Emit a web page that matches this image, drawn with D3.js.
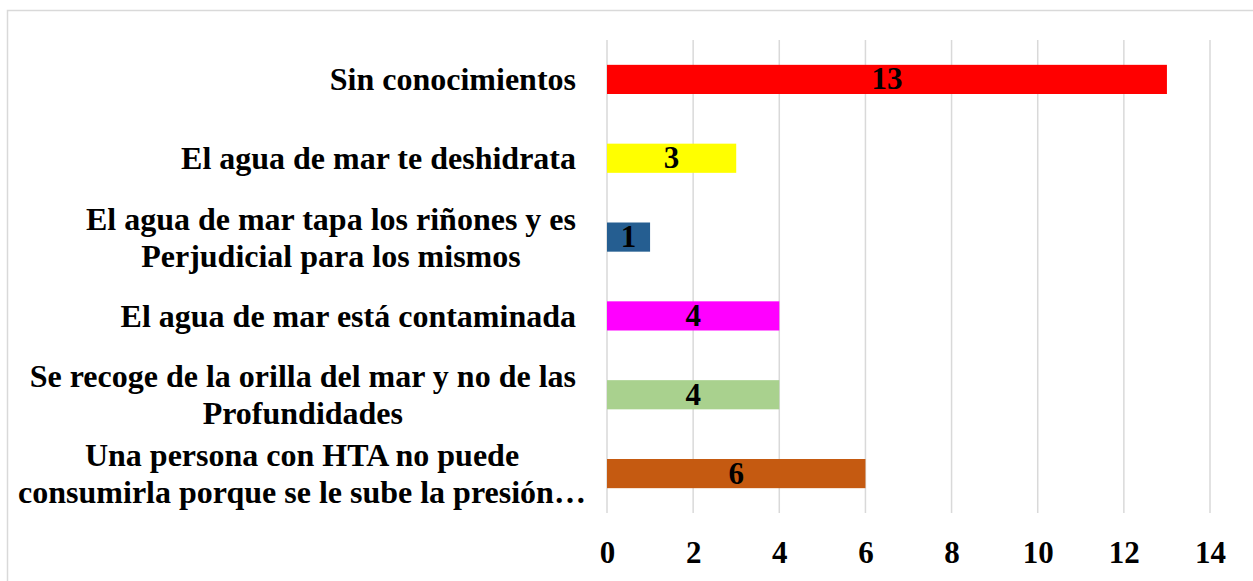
<!DOCTYPE html>
<html>
<head>
<meta charset="utf-8">
<script src="https://cdn.jsdelivr.net/npm/d3@7"></script>
<style>
    html, body { margin: 0; padding: 0; background: #ffffff; }
    svg { display: block; }
    .cat-label, .val-label, .tick-label {
        font-family: "Liberation Serif", "Times New Roman", serif;
        font-weight: bold;
        fill: #000000;
    }
</style>
</head>
<body>
<svg id="chart" width="1253" height="581"></svg>
<script>
// categories, top to bottom ("\n" = line break in the label)
var categories = [
    "Sin conocimientos",
    "El agua de mar te deshidrata",
    "El agua de mar tapa los riñones y es\nPerjudicial para los mismos",
    "El agua de mar está contaminada",
    "Se recoge de la orilla del mar y no de las\nProfundidades",
    "Una persona con HTA no puede\nconsumirla porque se le sube la presión…"
];
var values = [13, 3, 1, 4, 4, 6];
var barColors = ["#FF0000", "#FFFF00", "#255E91", "#FF00FF", "#A9D18E", "#C55A11"];
var xTicks = [0, 2, 4, 6, 8, 10, 12, 14];

var svg = d3.select("#chart");

var dim = {
    width: 1253,
    height: 581,
    plot: { left: 607, right: 1210, top: 40, bottom: 513 },
    labelRight: 576,
    labelMaxWidth: 548,
    lineHeight: 37
};

// chart area border
svg.append("rect")
    .attr("x", 7.5)
    .attr("y", 10.5)
    .attr("width", dim.width)
    .attr("height", dim.height)
    .attr("fill", "none")
    .attr("stroke", "#D9D9D9")
    .attr("stroke-width", 1.5);

var x = d3.scaleLinear()
    .domain([0, 14])
    .range([dim.plot.left, dim.plot.right]);

var y = d3.scaleBand()
    .domain(categories)
    .range([dim.plot.top, dim.plot.bottom])
    .paddingInner(0.63)
    .paddingOuter(0.315);

// vertical gridlines
svg.selectAll(".grid").data(xTicks).enter()
    .append("line")
    .attr("class", "grid")
    .attr("x1", function(d) { return x(d); })
    .attr("x2", function(d) { return x(d); })
    .attr("y1", dim.plot.top)
    .attr("y2", dim.plot.bottom)
    .attr("stroke", "#D9D9D9")
    .attr("stroke-width", 1.5);

// x axis tick labels
var xAxis = d3.axisBottom(x).tickValues(xTicks).tickSize(0).tickPadding(0);
var axisG = svg.append("g")
    .attr("transform", "translate(0," + dim.plot.bottom + ")")
    .call(xAxis);
axisG.select(".domain").remove();
axisG.selectAll("text")
    .attr("class", "tick-label")
    .attr("y", 50)
    .attr("dy", 0)
    .attr("font-size", "31px")
    .style("font-family", "'Liberation Serif', 'Times New Roman', serif")
    .style("font-weight", "bold");

// bars
svg.selectAll(".bar").data(categories).enter()
    .append("rect")
    .attr("class", "bar")
    .attr("x", x(0))
    .attr("y", function(d) { return y(d); })
    .attr("width", function(d, i) { return x(values[i]) - x(0); })
    .attr("height", y.bandwidth())
    .attr("fill", function(d, i) { return barColors[i]; });

// value labels in the bars
svg.selectAll(".val-label").data(categories).enter()
    .append("text")
    .attr("class", "val-label")
    .attr("x", function(d, i) { return (x(0) + x(values[i])) / 2; })
    .attr("y", function(d) { return y(d) + y.bandwidth() / 2 + 10; })
    .attr("text-anchor", "middle")
    .attr("font-size", "31px")
    .text(function(d, i) { return values[i]; });

// category labels, wrapped blocks centred on their widest line
svg.selectAll(".cat-label").data(categories).enter()
    .append("text")
    .attr("class", "cat-label")
    .attr("font-size", "32px")
    .attr("text-anchor", "middle")
    .each(function(d) {
        var _this = d3.select(this);
        var lines = d.split("\n");
        var cy = y(d) + y.bandwidth() / 2;
        var y0 = cy - (lines.length - 1) * dim.lineHeight / 2 + 11;
        _this.selectAll("tspan").data(lines).enter()
            .append("tspan")
            .attr("y", function(l, i) { return y0 + i * dim.lineHeight; })
            .text(function(l) { return l; });
        var maxW = 0;
        _this.selectAll("tspan").each(function() {
            maxW = Math.max(maxW, this.getComputedTextLength());
        });
        maxW = Math.min(maxW, dim.labelMaxWidth);
        _this.selectAll("tspan").attr("x", dim.labelRight - maxW / 2);
    });
</script>
</body>
</html>
